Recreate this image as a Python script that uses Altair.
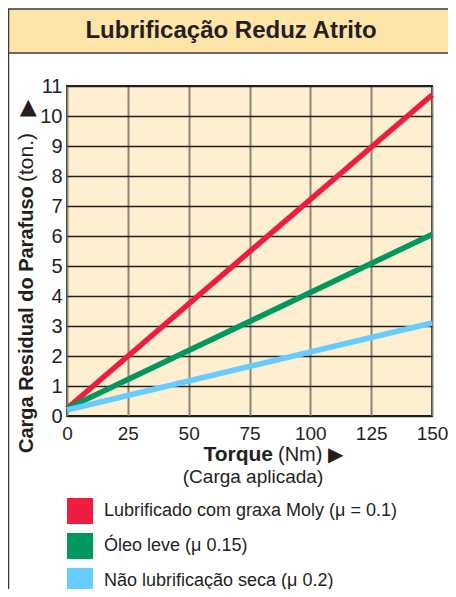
import altair as alt
import pandas as pd

# ---- data ----
torque = [0, 150]
series = ["Lubrificado com graxa Moly (μ = 0.1)", "Óleo leve (μ 0.15)", "Não lubrificação seca (μ 0.2)"]
moly = [0.25, 10.7]
oleo = [0.25, 6.05]
seco = [0.2, 3.1]
colors = ["#EE1D3F", "#00985F", "#66CCFF"]
x_ticks = [0, 25, 50, 75, 100, 125, 150]
y_ticks = list(range(0, 12))

rows = []
for name, vals in zip(series, [moly, oleo, seco]):
    for t, v in zip(torque, vals):
        rows.append({"torque": t, "carga": v, "serie": name})
df = pd.DataFrame(rows)

FONT = "Liberation Sans"
DARK = "#231F20"

W, H = 365, 330

x_enc = alt.X("torque:Q", scale=alt.Scale(domain=[0, 150], nice=False),
              axis=alt.Axis(values=x_ticks, title=None, ticks=False, domain=False,
                            labelFontSize=19, labelFont=FONT, labelColor=DARK,
                            labelPadding=8, gridColor="#8C8476", gridWidth=2,
                            labelFlush=False))
y_enc = alt.Y("carga:Q", scale=alt.Scale(domain=[0, 11], nice=False),
              axis=alt.Axis(values=y_ticks, title=None, ticks=False, domain=False,
                            labelFontSize=20, labelFont=FONT, labelColor=DARK,
                            labelPadding=5, gridColor=DARK, gridWidth=1.5,
                            labelFlush=False))

# stroke draws the lines; fill (zero-area for a straight line) only drives the
# filled-square legend
lines = alt.Chart(df).mark_line(strokeWidth=5.5, strokeCap="butt").encode(
    x=x_enc, y=y_enc,
    stroke=alt.Stroke("serie:N", scale=alt.Scale(domain=series, range=colors), legend=None),
    fill=alt.Fill("serie:N", scale=alt.Scale(domain=series, range=colors),
                  legend=alt.Legend(title=None, orient="none", legendX=0, legendY=412,
                                    symbolType="square", symbolSize=676,
                                    symbolStrokeWidth=0, symbolOpacity=1,
                                    labelFontSize=18, labelFont=FONT, labelColor=DARK,
                                    labelOffset=11, rowPadding=9, padding=0,
                                    labelLimit=400)),
)

# decorative frame / title band
band = alt.Chart(pd.DataFrame({"a": [0]})).mark_rect(
    fill="#FEE4A6", stroke="#3A3A3A", strokeWidth=1.5).encode(
    x=alt.value(-58.5), x2=alt.value(385), y=alt.value(-77), y2=alt.value(-33))

frame_left = alt.Chart(pd.DataFrame({"a": [0]})).mark_rule(
    color="#3A3A3A", strokeWidth=1.5).encode(
    x=alt.value(-58.5), y=alt.value(-33), y2=alt.value(510))

title = alt.Chart(pd.DataFrame({"t": ["Lubrificação Reduz Atrito"]})).mark_text(
    font=FONT, fontSize=24, fontWeight="bold", color=DARK, baseline="middle", align="center"
).encode(text="t:N", x=alt.value(164), y=alt.value(-55))

# y-axis title (mixed weights)
ytitle_b = alt.Chart(pd.DataFrame({"t": ["Carga Residual do Parafuso"]})).mark_text(
    font=FONT, fontSize=20, fontWeight="bold", color=DARK, angle=270,
    align="left", baseline="middle"
).encode(text="t:N", x=alt.value(-40), y=alt.value(367))

ytitle_r = alt.Chart(pd.DataFrame({"t": ["(ton.)"]})).mark_text(
    font=FONT, fontSize=21, color=DARK, angle=270,
    align="left", baseline="middle"
).encode(text="t:N", x=alt.value(-40), y=alt.value(96))

ytitle_arrow = alt.Chart(pd.DataFrame({"t": ["▶"]})).mark_text(
    font="DejaVu Sans", fontSize=22, color=DARK, angle=270,
    align="center", baseline="middle"
).encode(text="t:N", x=alt.value(-40), y=alt.value(22))

# x-axis title
xtitle_b = alt.Chart(pd.DataFrame({"t": ["Torque"]})).mark_text(
    font=FONT, fontSize=21, fontWeight="bold", color=DARK, align="right", baseline="middle"
).encode(text="t:N", x=alt.value(206), y=alt.value(369))

xtitle_r = alt.Chart(pd.DataFrame({"t": ["(Nm) ▶"]})).mark_text(
    font=FONT, fontSize=20, color=DARK, align="left", baseline="middle"
).encode(text="t:N", x=alt.value(211), y=alt.value(369))

xsub = alt.Chart(pd.DataFrame({"t": ["(Carga aplicada)"]})).mark_text(
    font=FONT, fontSize=19, color=DARK, align="center", baseline="middle"
).encode(text="t:N", x=alt.value(186), y=alt.value(391))

chart = alt.layer(
    band, frame_left, lines, title, ytitle_b, ytitle_r, ytitle_arrow,
    xtitle_b, xtitle_r, xsub
).properties(
    width=W, height=H,
    padding={"left": 59, "top": 78, "right": 16, "bottom": 173},
    autosize=alt.AutoSizeParams(type="none"),
    background="white",
).configure_view(
    fill="#FEEFD1", stroke=DARK, strokeWidth=2
)

chart.save("out.html", embed_options={"renderer": "svg", "actions": False})
